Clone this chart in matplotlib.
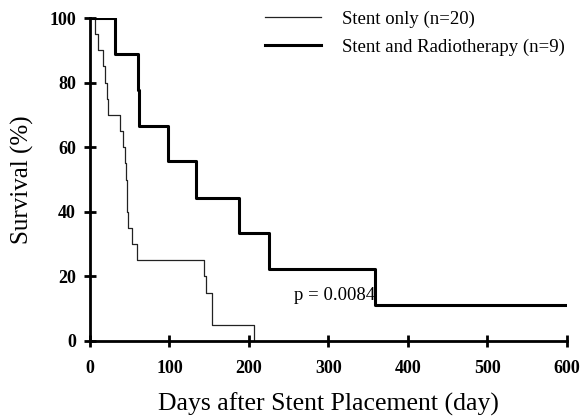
import matplotlib
matplotlib.use("Agg")
import matplotlib.pyplot as plt

# Kaplan-Meier steps
stent_days = [0, 6, 10, 16, 19, 21, 23, 38, 41, 44, 45, 46, 47, 48, 53, 59, 143, 146, 153, 206]
stent_surv = [100, 95, 90, 85, 80, 75, 70, 65, 60, 55, 50, 45, 40, 35, 30, 25, 20, 15, 5, 0]

radio_days = [0, 31, 61, 62, 98, 134, 188, 225, 358, 600]
radio_surv = [100, 88.9, 77.8, 66.7, 55.6, 44.4, 33.3, 22.2, 11.1, 11.1]

labels = ["Stent only (n=20)", "Stent and Radiotherapy (n=9)"]
x_ticks = [0, 100, 200, 300, 400, 500, 600]
y_ticks = [0, 20, 40, 60, 80, 100]

plt.rcParams['font.family'] = ['Liberation Serif', 'DejaVu Serif']

fig = plt.figure(figsize=(5.82, 4.16), dpi=100)
ax = fig.add_axes([0.1546, 0.1803, 0.8194, 0.7764])

ax.step(stent_days, stent_surv, where='post', color='#222222', lw=0.9, label=labels[0])
ax.step(radio_days, radio_surv, where='post', color='black', lw=2.2, label=labels[1])

ax.set_xlim(0, 600)
ax.set_ylim(0, 100)
ax.set_xticks(x_ticks)
ax.set_yticks(y_ticks)
for s in ['top', 'right']:
    ax.spines[s].set_visible(False)
for s in ['left', 'bottom']:
    ax.spines[s].set_linewidth(2)
ax.tick_params(direction='inout', length=8, width=2, labelsize=13)
ax.tick_params(axis='x', pad=10)
ax.tick_params(axis='y', pad=6)
for t in ax.get_xticklabels() + ax.get_yticklabels():
    t.set_fontweight('bold')

ax.set_xlabel('Days after Stent Placement (day)', fontsize=18.5, labelpad=11)
ax.set_ylabel('Survival (%)', fontsize=18, labelpad=11)

ax.text(257, 14, 'p = 0.0084', fontsize=13.5, va='center')

leg = ax.legend(loc='upper left', bbox_to_anchor=(0.367, 1.023), frameon=False,
                borderaxespad=0, borderpad=0,
                fontsize=13.5, handlelength=3.0, handletextpad=1.1, labelspacing=0.55)

fig.savefig('out.png', dpi=100)
